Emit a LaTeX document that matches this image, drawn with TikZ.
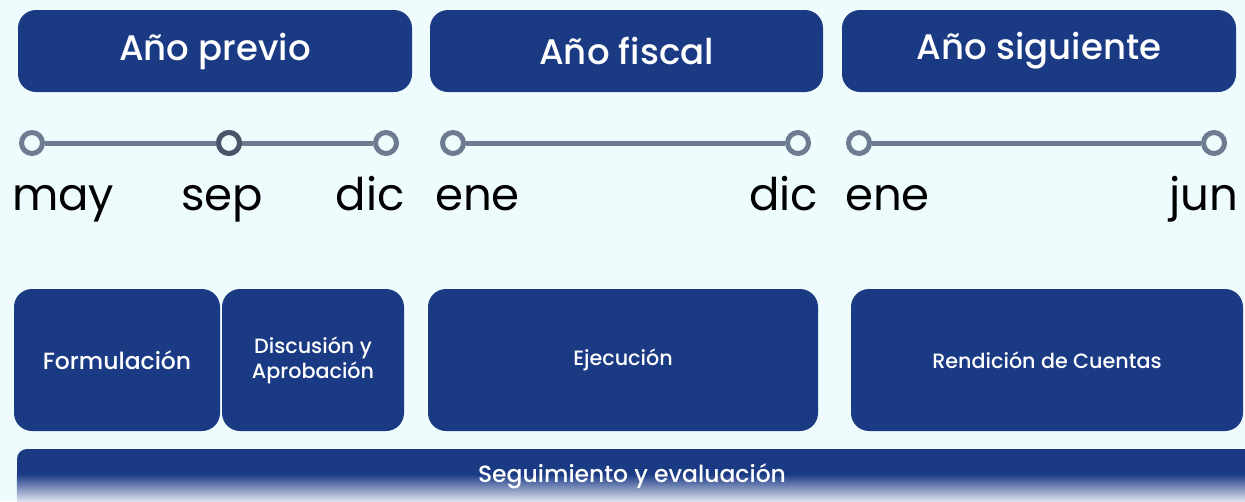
\documentclass[tikz,border=0pt]{standalone}
\usepackage{fontspec}
\setmainfont{Poppins}
\newfontfamily\popmed{Poppins Medium}
\usetikzlibrary{positioning}
\definecolor{bgcyan}{HTML}{EEFCFD}
\definecolor{boxblue}{HTML}{1B3A84}
\definecolor{dotgray}{HTML}{6E7C91}
\definecolor{dotdark}{HTML}{4B5567}
\definecolor{fadegray}{HTML}{DCE2F0}
\begin{document}
\begin{tikzpicture}
[x=1pt,y=-1pt,
  yeardecorate/.style={shape=rectangle,rounded corners=18pt,fill=boxblue,text=white,%
    minimum height=82pt,font=\popmed\fontsize{35.5}{40}\selectfont},%
  phasedecorate/.style={shape=rectangle,rounded corners=18pt,fill=boxblue,text=white,%
    minimum height=142pt,align=center,font=\popmed\fontsize{#1}{25}\selectfont},%
  dotdecorate/.style={shape=circle,minimum size=21pt,inner sep=0pt,line width=5pt,draw=dotgray,fill=bgcyan},%
  linedecorate/.style={-,line width=5pt,draw=dotgray},%
  monthdecorate/.style={inner sep=0pt,font=\fontsize{45}{52}\selectfont}]
\useasboundingbox[fill=bgcyan] (0,0) rectangle (1245,501);
%% year headers
\foreach \nodename/\x/\w/\txt in {previo/215/394/Año previo, fiscal/626.5/393/Año fiscal,
  siguiente/1039/394/Año siguiente} {
  \node (\nodename) at (\x,51) [yeardecorate,minimum width=\w pt] {\txt};
}
%% timeline dots
\foreach \nodename/\x in {may/32, sepa/229, dica/386, enea/453, dicb/798, eneb/859, jun/1214} {
  \node (\nodename) at (\x,143) [dotdecorate] {};
}
\node at (sepa) [dotdecorate,draw=dotdark] {};
%% timeline lines
\path
\foreach \startnode/\endnode in {may/sepa, sepa/dica, enea/dicb, eneb/jun} {
  (\startnode) edge[linedecorate] (\endnode)
};
%% month labels
\foreach \nodename/\x/\anc/\txt in {lmay/12/base west/may, lsep/222/base/sep, ldica/405/base east/dic,
  lenea/435/base west/ene, ldicb/818/base east/dic, leneb/845/base west/ene, ljun/1238/base east/jun} {
  \node (\nodename) at (\x,210) [monthdecorate,anchor=\anc] {\txt};
}
%% phases
\foreach \nodename/\x/\w/\s/\txt in {formulacion/117/206/23.5/Formulación, discusion/313/182/20.7/Discusión y\\Aprobación,
  ejecucion/623/390/20.7/Ejecución, rendicion/1047/392/20.7/Rendición de Cuentas} {
  \node (\nodename) at (\x,360) [phasedecorate=\s,minimum width=\w pt] {\txt};
}
%% follow-up bar, fading out at the bottom
\node (bar) at (638.5,482) [shape=rectangle,rounded corners=10pt,fill=boxblue,minimum width=1243pt,minimum height=66pt] {};
\shade[top color=boxblue,bottom color=fadegray] (bar.west |- 0,474) rectangle (bar.east |- 0,501);
\node (seguimiento) at (632,476) [text=white,font=\popmed\fontsize{23.5}{26}\selectfont] {Seguimiento y evaluación};
\end{tikzpicture}
\end{document}
